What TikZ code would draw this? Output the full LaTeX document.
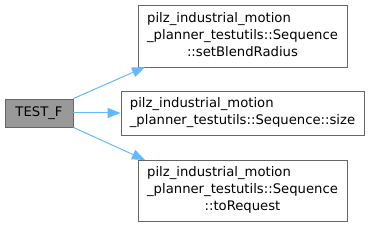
\documentclass[tikz,border=0pt]{standalone}
\usepackage{fontspec}
\setmainfont{DejaVu Sans}
\usetikzlibrary{arrows.meta}
\definecolor{edgeblue}{HTML}{63B8FF}
\definecolor{boxborder}{HTML}{666666}
\definecolor{boxgray}{HTML}{999999}
\begin{document}
\begin{tikzpicture}[x=1pt,y=-1pt,
  fn/.style={draw=boxborder,fill=white,line width=0.9pt,inner sep=0pt,font=\fontsize{13.2}{17}\selectfont},
  cur/.style={draw=boxborder,fill=boxgray,line width=0.9pt,inner sep=0pt,font=\fontsize{13.2}{17}\selectfont},
  call/.style={draw=edgeblue,line width=1pt,-{Triangle[length=13pt,width=10pt]}}]
\useasboundingbox (0,0) rectangle (369,227);
\node[cur,minimum width=68pt,minimum height=28pt] (a) at (39,113) {TEST\_F};
\node[fn,minimum width=209pt,minimum height=62pt] (b) at (242.5,36) {\begin{tabular}{@{}l@{}}pilz\_industrial\_motion\\\_planner\_testutils::Sequence\\\multicolumn{1}{@{}c@{}}{::setBlendRadius}\end{tabular}};
\node[fn,minimum width=243pt,minimum height=44pt] (c) at (242.5,113) {\begin{tabular}{@{}l@{}}pilz\_industrial\_motion\\\_planner\_testutils::Sequence::size\end{tabular}};
\node[fn,minimum width=209pt,minimum height=61pt] (d) at (242.5,190.5) {\begin{tabular}{@{}l@{}}pilz\_industrial\_motion\\\_planner\_testutils::Sequence\\\multicolumn{1}{@{}c@{}}{::toRequest}\end{tabular}};
\coordinate (bb) at (145,67);
\coordinate (db) at (145,160);
\draw[call] (a.north east) -- (bb);
\draw[call] (a.east) -- (c.west);
\draw[call] (a.south east) -- (db);
\end{tikzpicture}
\end{document}
